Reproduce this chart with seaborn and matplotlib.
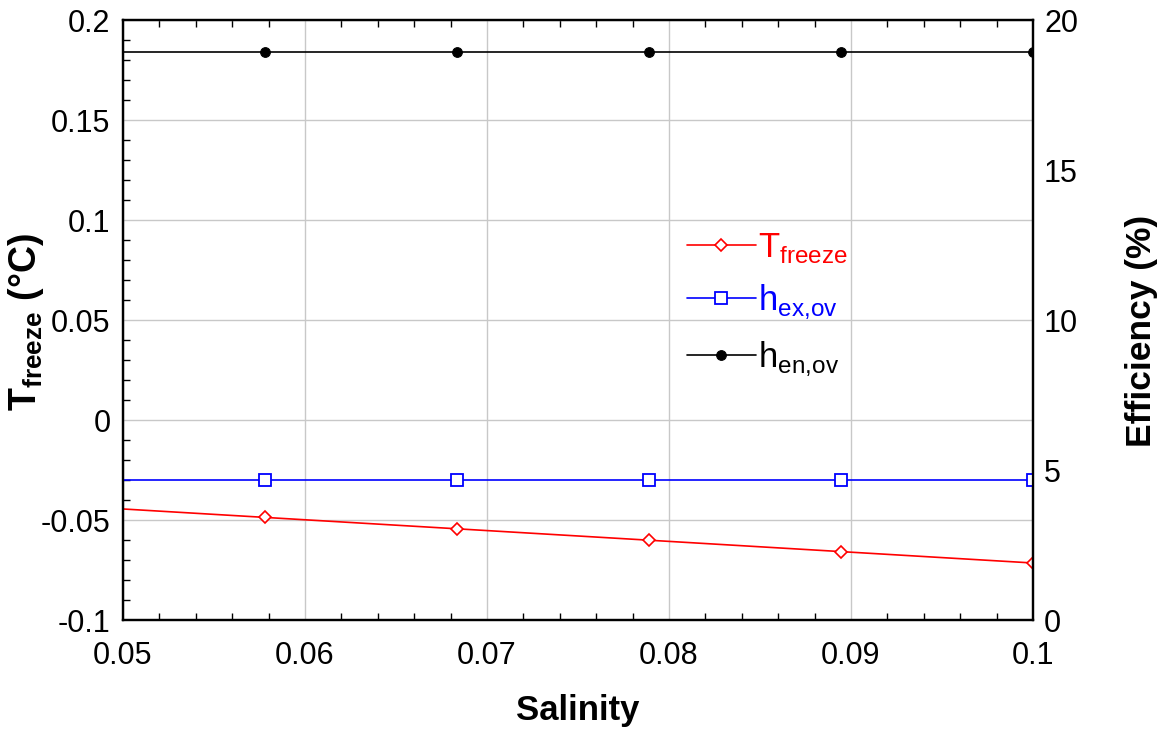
import matplotlib
matplotlib.use("Agg")
import matplotlib.pyplot as plt
import seaborn as sns
import numpy as np
import pandas as pd
from matplotlib.ticker import MultipleLocator, FuncFormatter

# ---- data ----
salinity = [0.04725, 0.0578, 0.06835, 0.0789, 0.08945, 0.1]
t_freeze = [-0.0430, -0.0487, -0.0544, -0.0601, -0.0658, -0.0715]
eff_exergy = [4.67, 4.67, 4.67, 4.67, 4.67, 4.67]
eff_energy = [18.95, 18.95, 18.95, 18.95, 18.95, 18.95]

x_ticks = [0.05, 0.06, 0.07, 0.08, 0.09, 0.1]
left_ticks = [-0.1, -0.05, 0, 0.05, 0.1, 0.15, 0.2]
right_ticks = [0, 5, 10, 15, 20]

sns.set_theme(style="white")
plt.rcParams['font.family'] = ['Liberation Sans', 'DejaVu Sans']
plt.rcParams['mathtext.fontset'] = 'custom'
plt.rcParams['mathtext.rm'] = 'Liberation Sans'
plt.rcParams['mathtext.bf'] = 'Liberation Sans:bold'
plt.rcParams['text.color'] = 'black'
plt.rcParams['axes.labelcolor'] = 'black'

df = pd.DataFrame({"salinity": salinity, "t_freeze": t_freeze,
                   "eff_ex": eff_exergy, "eff_en": eff_energy})

fig = plt.figure(figsize=(11.69, 7.31), dpi=100)
ax = fig.add_axes([123/1169, 1-620/731, (1033-123)/1169, 600/731])
ax2 = ax.twinx()

sns.lineplot(data=df, x="salinity", y="t_freeze", ax=ax, color="red", lw=1.2,
             marker="D", markersize=6, markerfacecolor="white",
             markeredgecolor="red", markeredgewidth=1.2)
sns.lineplot(data=df, x="salinity", y="eff_ex", ax=ax2, color="blue", lw=1.2,
             marker="s", markersize=9, markerfacecolor="white",
             markeredgecolor="blue", markeredgewidth=1.3)
sns.lineplot(data=df, x="salinity", y="eff_en", ax=ax2, color="black", lw=1.2,
             marker="o", markersize=7, markerfacecolor="black",
             markeredgecolor="black")

ax.set_xlim(0.05, 0.1)
ax.set_ylim(-0.1, 0.2)
ax2.set_ylim(0, 20)

fmt = FuncFormatter(lambda v, p: ("%g" % v).replace("\u2212", "-"))
ax.set_xticks(x_ticks)
ax.set_yticks(left_ticks)
ax2.set_yticks(right_ticks)
ax.xaxis.set_major_formatter(fmt)
ax.yaxis.set_major_formatter(fmt)
ax2.yaxis.set_major_formatter(fmt)
ax.xaxis.set_minor_locator(MultipleLocator(0.002))
ax.yaxis.set_minor_locator(MultipleLocator(0.01))

ax.grid(True, which="major", color="#c8c8c8", lw=1)
ax2.grid(False)
ax.tick_params(axis="both", which="major", length=0, labelsize=22, colors="black")
ax.tick_params(axis="x", which="major", pad=15, top=False)
ax.tick_params(axis="y", which="major", pad=9)
ax.tick_params(axis="both", which="minor", direction="in", length=5, width=1,
               top=True, bottom=True, left=True, right=False, colors="black")
ax2.tick_params(axis="y", which="both", length=0, labelsize=22, pad=8, colors="black")

for a in (ax, ax2):
    for s in a.spines.values():
        s.set_color("black")
        s.set_linewidth(1.6)

ax.set_xlabel("Salinity", fontsize=25, fontweight="bold", labelpad=17, color="black")
ax.set_ylabel(r"T$_{\mathbf{freeze}}$ (°C)", fontsize=27, fontweight="bold", color="black")
ax.yaxis.set_label_coords(-0.085, 0.497)
ax2.set_ylabel("Efficiency (%)", fontsize=25.5, fontweight="bold", color="black")
ax2.yaxis.set_label_coords(1.101, 0.4825)

handles = [ax.get_lines()[0], ax2.get_lines()[0], ax2.get_lines()[1]]
labels = [r"T$_{\mathrm{freeze}}$", r"h$_{\mathrm{ex{,}ov}}$", r"h$_{\mathrm{en{,}ov}}$"]
leg = ax.legend(handles, labels, loc="upper left", bbox_to_anchor=(0.604, 0.672),
                frameon=False, fontsize=25, handlelength=2.0, handletextpad=0.05,
                labelspacing=0.52, borderaxespad=0)
for txt, c in zip(leg.get_texts(), ["red", "blue", "black"]):
    txt.set_color(c)

fig.savefig("out.png", dpi=100)
